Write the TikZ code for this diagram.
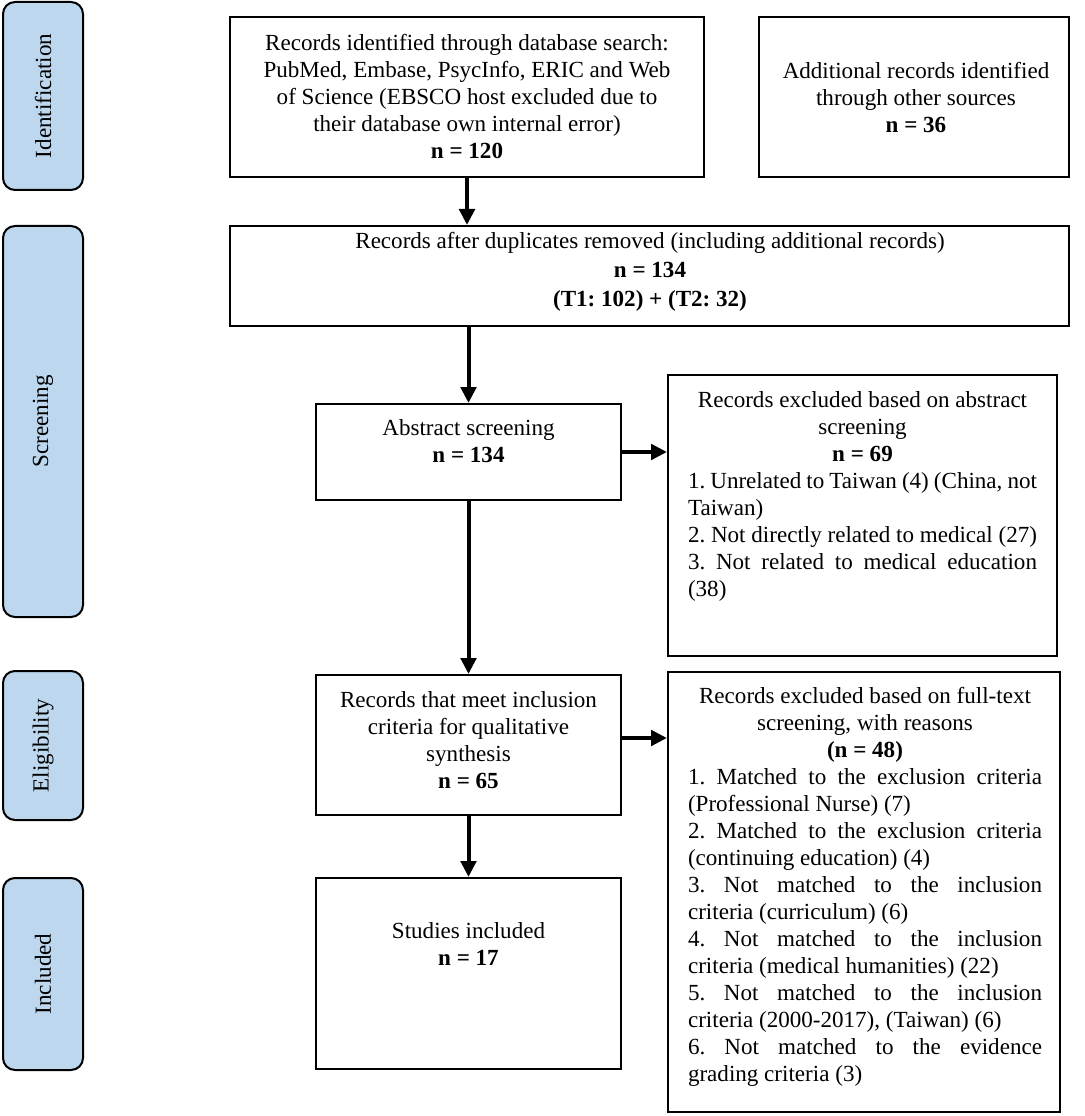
\documentclass[tikz,border=0pt]{standalone}
\usepackage{fontspec}
\setmainfont{Liberation Serif}
\usetikzlibrary{arrows.meta}
\definecolor{phasefill}{RGB}{189,215,238}
\newcommand\Cl[1]{\hbox to \tw{\hfil#1\hfil}}
\newcommand\Jl[1]{\hbox to \tw{#1}}
\newcommand\Ll[1]{\hbox to \tw{#1\hfil}}
\frenchspacing
\begin{document}
\begin{tikzpicture}[x=0.75pt,y=-0.75pt,
  frame/.style={draw=black, line width=1.5pt, inner sep=0pt, fill=white},
  phase/.style={draw=black, line width=1.5pt, fill=phasefill, rounded corners=9pt, inner sep=0pt, rotate=90, minimum height=60pt},
  txt/.style={inner sep=0pt, anchor=north, align=center},
  conn/.style={line width=3pt, -{Triangle[length=12pt,width=11.5pt]}},
  every node/.style={font=\frenchspacing\fontsize{17.3pt}{20.25pt}\selectfont}]
\useasboundingbox (0,0) rectangle (1084,1116);

% phase boxes
\node[phase, minimum width=141pt] (p1) at (43,96) {Identification};
\node[phase, minimum width=293.25pt] (p2) at (43,421.5) {Screening};
\node[phase, minimum width=111.75pt] (p3) at (43,745.5) {Eligibility};
\node[phase, minimum width=144pt] (p4) at (43,974) {Included};

% frames
\node[frame, minimum width=355.5pt, minimum height=120pt] (b1) at (467,97) {};
\node[frame, minimum width=232.5pt, minimum height=120pt] (b2) at (914,97) {};
\node[frame, minimum width=629.25pt, minimum height=75pt] (b3) at (649.5,276) {};
\node[frame, minimum width=228.75pt, minimum height=72pt] (b4) at (468.5,452) {};
\node[frame, minimum width=291.75pt, minimum height=210.75pt] (b5) at (862.5,515.5) {};
\node[frame, minimum width=294pt, minimum height=330pt] (b6) at (864,892) {};
\node[frame, minimum width=228.75pt, minimum height=105pt] (b7) at (468.5,745) {};
\node[frame, minimum width=228.75pt, minimum height=143.25pt] (b8) at (468.5,973.5) {};

% texts
\node[txt] (t1) at (467,33.5) {Records identified through database search:\\ PubMed, Embase, PsycInfo, ERIC and Web\\ of Science (EBSCO host excluded due to\\ their database own internal error)\\ \textbf{n = 120}};
\node[txt] (t2) at (916,61.5) {Additional records identified\\ through other sources\\ \textbf{n = 36}};
\node[txt, font=\frenchspacing\fontsize{17.3pt}{21.75pt}\selectfont] (t3) at (650,231.5) {Records after duplicates removed (including additional records)\\ \textbf{n = 134}\\ \textbf{(T1: 102) + (T2: 32)}};
\node[txt] (t4) at (468.5,419.5) {Abstract screening\\ \textbf{n = 134}};
\node[txt] (t5) at (862.5,391.5) {\vbox{\def\tw{261.75pt}%
\Cl{Records excluded based on abstract}
\Cl{screening}
\Cl{\textbf{n = 69}}
\Jl{1. Unrelated to Taiwan (4) (China, not}
\Ll{Taiwan)}
\Jl{2. Not directly related to medical (27)}
\Jl{3. Not related to medical education}
\Ll{(38)}}};
\node[txt] (t6) at (865,686.5) {\vbox{\def\tw{265.5pt}%
\Cl{Records excluded based on full-text}
\Cl{screening, with reasons}
\Cl{\textbf{(n = 48)}}
\Jl{1. Matched to the exclusion criteria}
\Ll{(Professional Nurse) (7)}
\Jl{2. Matched to the exclusion criteria}
\Ll{(continuing education) (4)}
\Jl{3. Not matched to the inclusion}
\Ll{criteria (curriculum) (6)}
\Jl{4. Not matched to the inclusion}
\Ll{criteria (medical humanities) (22)}
\Jl{5. Not matched to the inclusion}
\Ll{criteria (2000-2017), (Taiwan) (6)}
\Jl{6. Not matched to the evidence}
\Ll{grading criteria (3)}}};
\node[txt] (t7) at (468.5,691.5) {Records that meet inclusion\\ criteria for qualitative\\ synthesis\\ \textbf{n = 65}};
\node[txt] (t8) at (468.5,922.5) {Studies included\\ \textbf{n = 17}};

% connectors
\draw[conn] (b1.south) -- (b1.south |- b3.north);
\draw[conn] (b3.south -| b4.north) -- (b4.north);
\draw[conn] (b4.east) -- (b4.east -| b5.west);
\draw[conn] (b4.south) -- (b7.north);
\draw[conn] ([yshift=5.25pt]b7.east) -- ([yshift=5.25pt]b7.east -| b6.west);
\draw[conn] (b7.south) -- (b8.north);
\end{tikzpicture}
\end{document}
